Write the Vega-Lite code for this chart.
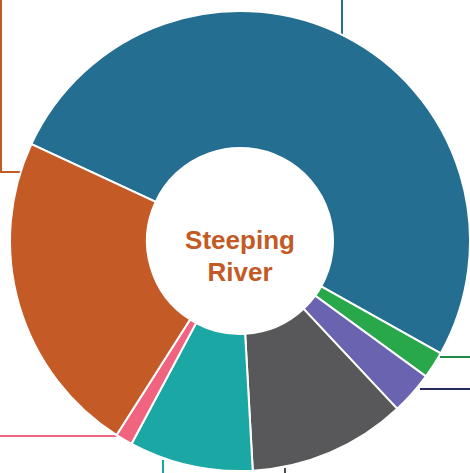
{
  "$schema": "https://vega.github.io/schema/vega-lite/v6.json",
  "autosize": {"type": "none"},
  "padding": {"left": 10, "top": 9, "right": 0, "bottom": 0},
  "width": 460,
  "height": 464,
  "background": "white",
  "config": {"view": {"stroke": null}},
  "datasets": {
    "shares": [
      {"name": "Segment 1", "pos": 1, "share": 51.2},
      {"name": "Segment 2", "pos": 2, "share": 1.9},
      {"name": "Segment 3", "pos": 3, "share": 3.0},
      {"name": "Segment 4", "pos": 4, "share": 11.1},
      {"name": "Segment 5", "pos": 5, "share": 8.7},
      {"name": "Segment 6", "pos": 6, "share": 1.2},
      {"name": "Segment 7", "pos": 7, "share": 22.9}
    ],
    "leaders": [
      {"name": "Segment 1", "step": 1, "x": 102, "y": -206},
      {"name": "Segment 1", "step": 2, "x": 102, "y": -260},
      {"name": "Segment 2", "step": 1, "x": 200, "y": 116},
      {"name": "Segment 2", "step": 2, "x": 250, "y": 116},
      {"name": "Segment 3", "step": 1, "x": 180, "y": 148},
      {"name": "Segment 3", "step": 2, "x": 250, "y": 148},
      {"name": "Segment 4", "step": 1, "x": 45, "y": 227},
      {"name": "Segment 4", "step": 2, "x": 45, "y": 260},
      {"name": "Segment 5", "step": 1, "x": -77, "y": 219},
      {"name": "Segment 5", "step": 2, "x": -77, "y": 260},
      {"name": "Segment 6", "step": 1, "x": -121, "y": 195},
      {"name": "Segment 6", "step": 2, "x": -260, "y": 195},
      {"name": "Segment 7", "step": 1, "x": -218, "y": -69},
      {"name": "Segment 7", "step": 2, "x": -239, "y": -69},
      {"name": "Segment 7", "step": 3, "x": -239, "y": -260}
    ],
    "title": [{"label": "Steeping\nRiver"}]
  },
  "layer": [
    {
      "data": {"name": "leaders"},
      "mark": {"type": "line", "strokeWidth": 2, "clip": false, "interpolate": "linear"},
      "encoding": {
        "x": {"field": "x", "type": "quantitative", "axis": null, "scale": {"domain": [-230, 230], "nice": false, "zero": false}},
        "y": {"field": "y", "type": "quantitative", "axis": null, "scale": {"domain": [-232, 232], "nice": false, "zero": false, "reverse": true}},
        "order": {"field": "step"},
        "detail": {"field": "name"},
        "color": {
          "field": "name",
          "type": "nominal",
          "legend": null,
          "scale": {
            "domain": ["Segment 1", "Segment 2", "Segment 3", "Segment 4", "Segment 5", "Segment 6", "Segment 7"],
            "range": ["#246E92", "#1F8C47", "#272B5F", "#4A4A4C", "#1AA7A3", "#F06480", "#C35A26"]
          }
        }
      }
    },
    {
      "data": {"name": "shares"},
      "mark": {"type": "arc", "radius": 230, "radius2": 93, "stroke": "white", "strokeWidth": 2},
      "encoding": {
        "theta": {
          "field": "share",
          "type": "quantitative",
          "stack": true,
          "scale": {"range": [-1.1362, 5.1470]}
        },
        "order": {"field": "pos"},
        "color": {
          "field": "name",
          "type": "nominal",
          "legend": null,
          "scale": {
            "domain": ["Segment 1", "Segment 2", "Segment 3", "Segment 4", "Segment 5", "Segment 6", "Segment 7"],
            "range": ["#246E92", "#28A84B", "#6A63AF", "#58585A", "#1BA8A4", "#F06480", "#C45B27"]
          }
        }
      }
    },
    {
      "data": {"name": "title"},
      "mark": {
        "type": "text",
        "font": "Liberation Sans",
        "fontWeight": "bold",
        "fontSize": 26,
        "lineHeight": 32,
        "align": "center",
        "baseline": "middle",
        "color": "#C35A26",
        "lineBreak": "\n"
      },
      "encoding": {"text": {"field": "label"}}
    }
  ],
  "resolve": {"scale": {"color": "independent", "theta": "independent"}}
}
